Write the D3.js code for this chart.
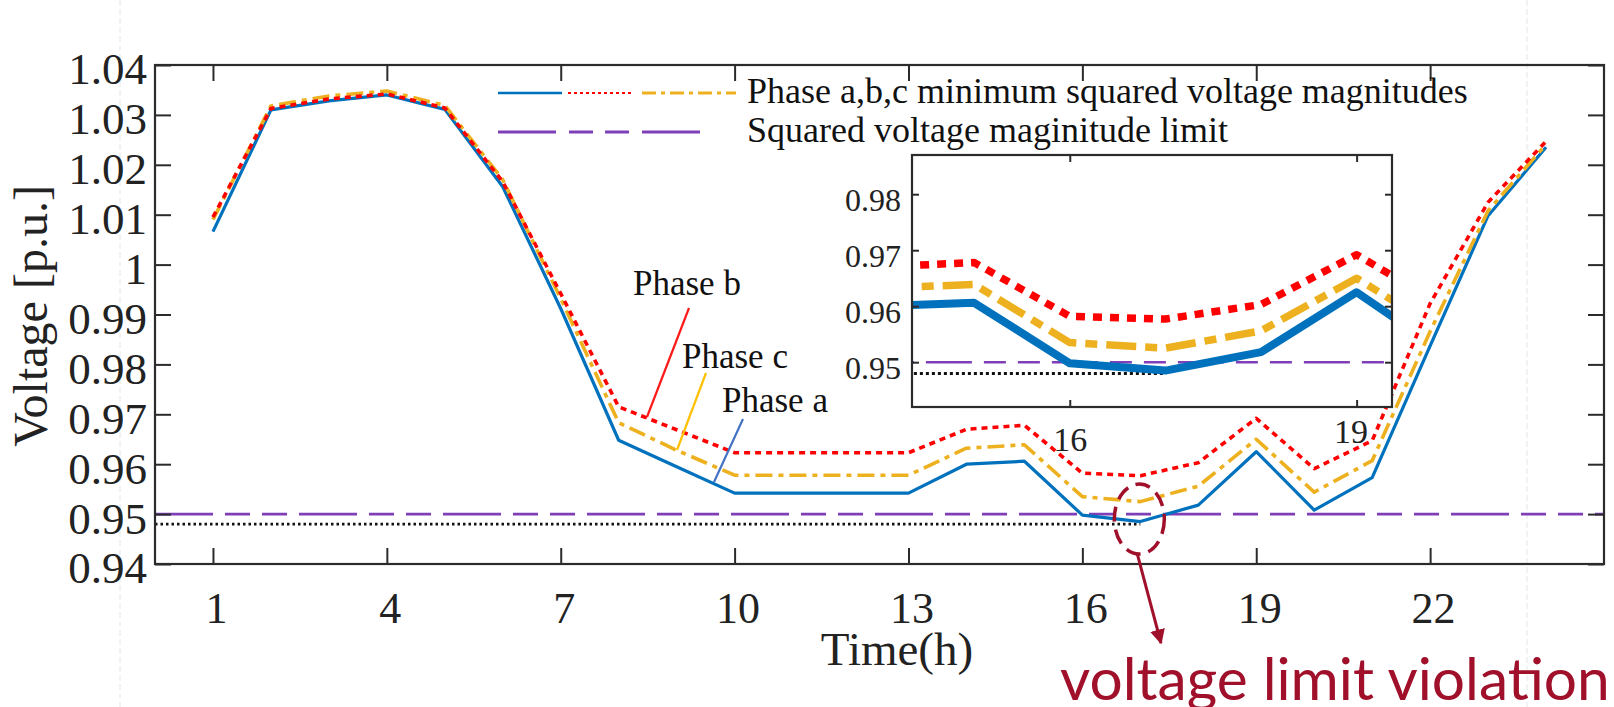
<!DOCTYPE html>
<html>
<head>
<meta charset="utf-8">
<script src="https://cdn.jsdelivr.net/npm/d3@7"></script>
<style>
  html, body { margin: 0; padding: 0; background: #fff; }
  svg { display: block; }
</style>
</head>
<body>
<svg id="chart" width="1614" height="707"></svg>
<script>
// ---------------- DATA ----------------
const hours = [1,2,3,4,5,6,7,8,9,10,11,12,13,14,15,16,17,18,19,20,21,22,23,24];
const phaseA = [1.0066,1.0310,1.0328,1.0340,1.0311,1.0156,0.9912,0.9648,0.9595,0.9542,0.9542,0.9542,
                0.9542,0.9600,0.9606,0.9498,0.9485,0.9518,0.9625,0.9508,0.9573,0.9837,1.0098,1.0235];
const phaseB = [1.0095,1.0313,1.0332,1.0342,1.0314,1.0166,0.9942,0.9715,0.9669,0.9623,0.9623,0.9623,
                0.9623,0.9670,0.9678,0.9582,0.9577,0.9603,0.9692,0.9591,0.9647,0.9922,1.0125,1.0247];
const phaseC = [1.0090,1.0318,1.0338,1.0348,1.0319,1.0170,0.9932,0.9683,0.9628,0.9578,0.9578,0.9578,
                0.9578,0.9632,0.9639,0.9535,0.9525,0.9556,0.9650,0.9544,0.9607,0.9866,1.0108,1.0241];
const limitValue = 0.95;
const violationValue = 0.948;
const violationSpan = [0, 17];
const xDomain = [0, 25];
const yDomain = [0.94, 1.04];
const xTicks = [1,4,7,10,13,16,19,22];
const xTickLabels = ["1","4","7","10","13","16","19","22"];
const yTicks = [0.94,0.95,0.96,0.97,0.98,0.99,1.00,1.01,1.02,1.03,1.04];
const yTickLabels = ["0.94","0.95","0.96","0.97","0.98","0.99","1","1.01","1.02","1.03","1.04"];
const insetXDomain = [14.35, 19.37];
const insetYDomain = [0.942, 0.987];
const insetXTicks = [16, 19];
const insetXTickLabels = ["16", "19"];
const insetYTicks = [0.95, 0.96, 0.97, 0.98];
const insetYTickLabels = ["0.95","0.96","0.97","0.98"];
const legendLabels = ["Phase a,b,c minimum squared voltage magnitudes", "Squared voltage maginitude limit"];
const phaseLabels = ["Phase a", "Phase b", "Phase c"];
const xTitle = "Time(h)";
const yTitle = "Voltage [p.u.]";
const noteText = "voltage limit violation";

// ---------------- STYLE ----------------
const C = { a: "#0072BD", b: "#FF0000", c: "#EDB120", lim: "#7E3FB8", note: "#A0102A", axis: "#2b2b2b" };
const SERIF = "'Liberation Serif','Times New Roman',serif";

const svg = d3.select("#chart");
const defs = svg.append("defs");

// faint page guides present in the screenshot
svg.append("line").attr("x1",120).attr("x2",120).attr("y1",0).attr("y2",707)
   .attr("stroke","#e6e6e6").attr("stroke-width",1).attr("stroke-dasharray","6,3");
svg.append("line").attr("x1",1527).attr("x2",1527).attr("y1",0).attr("y2",707)
   .attr("stroke","#e6e6e6").attr("stroke-width",1).attr("stroke-dasharray","6,3");

const L = 155, R = 1604, T = 65, B = 564;
const x = d3.scaleLinear().domain(xDomain).range([L, R]);
const y = d3.scaleLinear().domain(yDomain).range([B, T]);

function drawContent(g, xs, ys, sc) {
  const line = d3.line().x((d,i)=>xs(hours[i])).y(d=>ys(d));
  g.append("line").attr("x1", xs(xDomain[0])).attr("x2", xs(xDomain[1]))
    .attr("y1", ys(limitValue)).attr("y2", ys(limitValue))
    .attr("stroke", C.lim).attr("stroke-width", sc.lim)
    .attr("stroke-dasharray", sc.limDash);
  g.append("line").attr("x1", xs(violationSpan[0])).attr("x2", xs(violationSpan[1]))
    .attr("y1", ys(violationValue)).attr("y2", ys(violationValue))
    .attr("stroke", "#111").attr("stroke-width", sc.blk)
    .attr("stroke-dasharray", sc.blkDash);
  sc.series.forEach(s => {
    g.append("path").datum(s.vals).attr("d", line)
      .attr("fill","none").attr("stroke", s.color).attr("stroke-width", s.w)
      .attr("stroke-linejoin","round")
      .attr("stroke-dasharray", s.dash);
  });
}

// ---------------- MAIN PLOT ----------------
drawContent(svg.append("g"), x, y, {
  lim: 2.6, limDash: "58,12,25,12,25,12", blk: 2.6, blkDash: "2.5,3",
  series: [
    { vals: phaseA, color: C.a, dash: null,       w: 3.2 },
    { vals: phaseC, color: C.c, dash: "17,6,5,6", w: 3.6 },
    { vals: phaseB, color: C.b, dash: "6,5",      w: 3.6 }
  ]
});

function styleAxis(a, size) {
  a.attr("font-family", SERIF);
  a.select(".domain").remove();
  a.selectAll(".tick line").attr("stroke", C.axis).attr("stroke-width", 2);
  a.selectAll(".tick text").attr("font-family", SERIF).attr("font-size", size).attr("fill", "#222");
}

const tickLen = 16;
const yAxL = svg.append("g").attr("transform", `translate(${L},0)`)
  .call(d3.axisLeft(y).tickValues(yTicks).tickSizeInner(-tickLen).tickSizeOuter(0).tickPadding(8)
        .tickFormat((d,i)=>yTickLabels[i]));
const yAxR = svg.append("g").attr("transform", `translate(${R},0)`)
  .call(d3.axisRight(y).tickValues(yTicks).tickSizeInner(-tickLen).tickSizeOuter(0).tickFormat(""));
const xAxB = svg.append("g").attr("transform", `translate(0,${B})`)
  .call(d3.axisBottom(x).tickValues(xTicks).tickSizeInner(-tickLen).tickSizeOuter(0).tickPadding(28)
        .tickFormat((d,i)=>xTickLabels[i]));
const xAxT = svg.append("g").attr("transform", `translate(0,${T})`)
  .call(d3.axisTop(x).tickValues(xTicks).tickSizeInner(-tickLen).tickSizeOuter(0).tickFormat(""));
styleAxis(yAxL, 45); styleAxis(yAxR, 45); styleAxis(xAxB, 44); styleAxis(xAxT, 44);
yAxL.selectAll(".tick text").attr("dy", "0.42em");
xAxB.selectAll(".tick text").attr("dx", 3);
svg.append("rect").attr("x", L).attr("y", T).attr("width", R-L).attr("height", B-T)
  .attr("fill","none").attr("stroke", C.axis).attr("stroke-width", 2.2);

// titles
svg.append("text").attr("x", 897).attr("y", 665).attr("text-anchor","middle")
  .attr("font-family", SERIF).attr("font-size", 47).attr("fill","#222").text(xTitle);
svg.append("text").attr("transform","translate(47,316) rotate(-90)").attr("text-anchor","middle")
  .attr("font-family", SERIF).attr("font-size", 48).attr("fill","#222").text(yTitle);

// ---------------- LEGEND ----------------
const lg = svg.append("g");
lg.append("line").attr("x1",498).attr("x2",562).attr("y1",93).attr("y2",93)
  .attr("stroke",C.a).attr("stroke-width",2.6);
lg.append("line").attr("x1",568).attr("x2",633).attr("y1",93).attr("y2",93)
  .attr("stroke",C.b).attr("stroke-width",2.2).attr("stroke-dasharray","3,3");
lg.append("line").attr("x1",642).attr("x2",736).attr("y1",93).attr("y2",93)
  .attr("stroke",C.c).attr("stroke-width",3).attr("stroke-dasharray","14,5,4,5");
lg.append("line").attr("x1",498).attr("x2",702).attr("y1",132).attr("y2",132)
  .attr("stroke",C.lim).attr("stroke-width",3).attr("stroke-dasharray","58,13,24,12,24,13");
lg.selectAll("text.lt").data(legendLabels).join("text").attr("class","lt")
  .attr("x",747).attr("y",(d,i)=>103+i*39)
  .attr("font-family",SERIF).attr("font-size",36).attr("fill","#111").text(d=>d);

// ---------------- PHASE CALLOUTS ----------------
const callouts = [
  { label: phaseLabels[1], color: "#FF1A1A", tx: 633, ty: 295, x1: 689, y1: 308, x2: 647, y2: 417 },
  { label: phaseLabels[2], color: "#FFC000", tx: 682, ty: 368, x1: 706, y1: 373, x2: 677, y2: 450 },
  { label: phaseLabels[0], color: "#4472C4", tx: 722, ty: 412, x1: 743, y1: 419, x2: 714, y2: 482 }
];
callouts.forEach(c => {
  svg.append("line").attr("x1",c.x1).attr("y1",c.y1).attr("x2",c.x2).attr("y2",c.y2)
    .attr("stroke",c.color).attr("stroke-width",2.2);
  svg.append("text").attr("x",c.tx).attr("y",c.ty).attr("font-family",SERIF)
    .attr("font-size",35).attr("fill","#111").text(c.label);
});

// ---------------- INSET ----------------
const IL = 912, IR = 1392, IT = 155, IB = 407;
const xi = d3.scaleLinear().domain(insetXDomain).range([IL, IR]);
const yi = d3.scaleLinear().domain(insetYDomain).range([IB, IT]);
defs.append("clipPath").attr("id","insetClip")
  .append("rect").attr("x",IL).attr("y",IT).attr("width",IR-IL).attr("height",IB-IT);
svg.append("rect").attr("x",IL).attr("y",IT).attr("width",IR-IL).attr("height",IB-IT).attr("fill","#fff");
drawContent(svg.append("g").attr("clip-path","url(#insetClip)"), xi, yi, {
  lim: 2.4, limDash: "46,12,22,12,22,12", blk: 3, blkDash: "3,3",
  series: [
    { vals: phaseA, color: C.a, dash: null,        w: 8 },
    { vals: phaseC, color: C.c, dash: "30,9,12,9", w: 7.5 },
    { vals: phaseB, color: C.b, dash: "9,8",       w: 7.5 }
  ]
});
const iTick = 7;
const iyL = svg.append("g").attr("transform",`translate(${IL},0)`)
  .call(d3.axisLeft(yi).tickValues(insetYTicks).tickSizeInner(-iTick).tickSizeOuter(0).tickPadding(11)
        .tickFormat((d,i)=>insetYTickLabels[i]));
const iyR = svg.append("g").attr("transform",`translate(${IR},0)`)
  .call(d3.axisRight(yi).tickValues(insetYTicks).tickSizeInner(-iTick).tickSizeOuter(0).tickFormat(""));
const ixB = svg.append("g").attr("transform",`translate(0,${IB})`)
  .call(d3.axisBottom(xi).tickValues(insetXTicks).tickSizeInner(-iTick).tickSizeOuter(0).tickPadding(20)
        .tickFormat((d,i)=>insetXTickLabels[i]));
const ixT = svg.append("g").attr("transform",`translate(0,${IT})`)
  .call(d3.axisTop(xi).tickValues(insetXTicks).tickSizeInner(-iTick).tickSizeOuter(0).tickFormat(""));
styleAxis(iyL, 32); styleAxis(iyR, 32); styleAxis(ixB, 34); styleAxis(ixT, 34);
iyL.selectAll(".tick text").attr("dy","0.5em");
ixB.selectAll(".tick text")
  .attr("dy", (d,i) => i === 1 ? "0.47em" : "0.71em")
  .attr("dx", (d,i) => i === 1 ? -6 : 0);
svg.append("rect").attr("x",IL).attr("y",IT).attr("width",IR-IL).attr("height",IB-IT)
  .attr("fill","none").attr("stroke",C.axis).attr("stroke-width",2.2);

// ---------------- VIOLATION NOTE ----------------
const cx = x(violationSpan[1]) - 1, cy = y(violationValue) - 5;
svg.append("ellipse").attr("cx",cx).attr("cy",cy).attr("rx",25).attr("ry",35)
  .attr("fill","none").attr("stroke",C.note).attr("stroke-width",3.5).attr("stroke-dasharray","15,8");
defs.append("marker").attr("id","arr").attr("viewBox","0 0 10 10")
  .attr("refX",9).attr("refY",5).attr("markerWidth",5).attr("markerHeight",5)
  .attr("markerUnits","strokeWidth").attr("orient","auto")
  .append("path").attr("d","M0,0 L10,5 L0,10 z").attr("fill",C.note);
svg.append("line").attr("x1",cx-2).attr("y1",cy+35).attr("x2",1161).attr("y2",643)
  .attr("stroke",C.note).attr("stroke-width",3).attr("marker-end","url(#arr)");
const note = svg.append("text").attr("x",1060).attr("y",700)
  .attr("font-family","Lato,'Open Sans',sans-serif").attr("font-size",56)
  .attr("fill",C.note).text(noteText);
const w = note.node().getComputedTextLength();
note.attr("font-size", 56 * 550 / w);
</script>
</body>
</html>
